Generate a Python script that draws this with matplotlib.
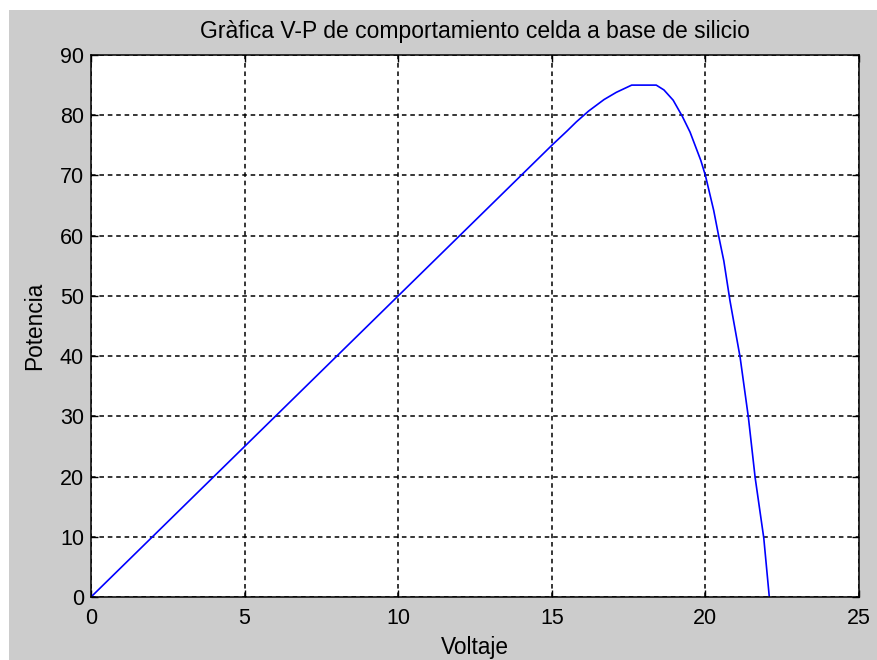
import matplotlib
matplotlib.use('Agg')
import matplotlib.pyplot as plt
from matplotlib.patches import Rectangle

# Curva V-P de la celda de silicio
voltaje = [0, 2, 4, 6, 8, 10, 12, 14, 15, 15.5, 15.8, 16.2, 16.7, 17.1, 17.6,
           18.4, 18.65, 18.95, 19.25, 19.5, 19.85, 20.0, 20.27, 20.43, 20.6,
           20.8, 21.13, 21.4, 21.62, 21.9, 22.08]
potencia = [0, 10, 20, 30, 40, 50, 60, 70, 75, 77.4, 78.9, 80.7, 82.6, 83.8, 85.0,
            85.0, 84.2, 82.5, 79.8, 77.2, 72.5, 70.0, 64.2, 60.0, 55.8,
            49.2, 39.8, 29.8, 19.8, 9.8, 0]

x_ticks = [0, 5, 10, 15, 20, 25]
y_ticks = [0, 10, 20, 30, 40, 50, 60, 70, 80, 90]

plt.rcParams['font.family'] = ['Liberation Sans', 'DejaVu Sans']

fig = plt.figure(figsize=(8.78, 6.6), dpi=100)
fig.patch.set_facecolor('white')
# fondo gris estilo matlab
fig.patches.append(Rectangle((9 / 878, 0), 1, 650 / 660, transform=fig.transFigure,
                             facecolor='#cccccc', edgecolor='none', zorder=-10))

ax = fig.add_axes([91 / 878, 63 / 660, 768 / 878, 542 / 660])
ax.set_facecolor('white')
ax.plot(voltaje, potencia, color=(0, 0, 1), linewidth=1.2)

ax.set_xlim(0, 25)
ax.set_ylim(0, 90)
ax.set_xticks(x_ticks)
ax.set_yticks(y_ticks)
ax.tick_params(direction='in', length=5, width=1, top=True, right=True,
               labelsize=15.5, colors='black')
ax.tick_params(axis='x', pad=8)
ax.tick_params(axis='y', pad=5)
for s in ax.spines.values():
    s.set_linewidth(1.1)
    s.set_color('black')

ax.grid(True, color='black', linestyle=(0, (3, 2.5)), linewidth=1.1)

ax.set_title('Gràfica V-P de comportamiento celda a base de silicio', fontsize=16.5, pad=12)
ax.set_xlabel('Voltaje', fontsize=16.3, labelpad=5)
ax.set_ylabel('Potencia', fontsize=16.3, labelpad=10)

fig.savefig('out.png', dpi=100)
